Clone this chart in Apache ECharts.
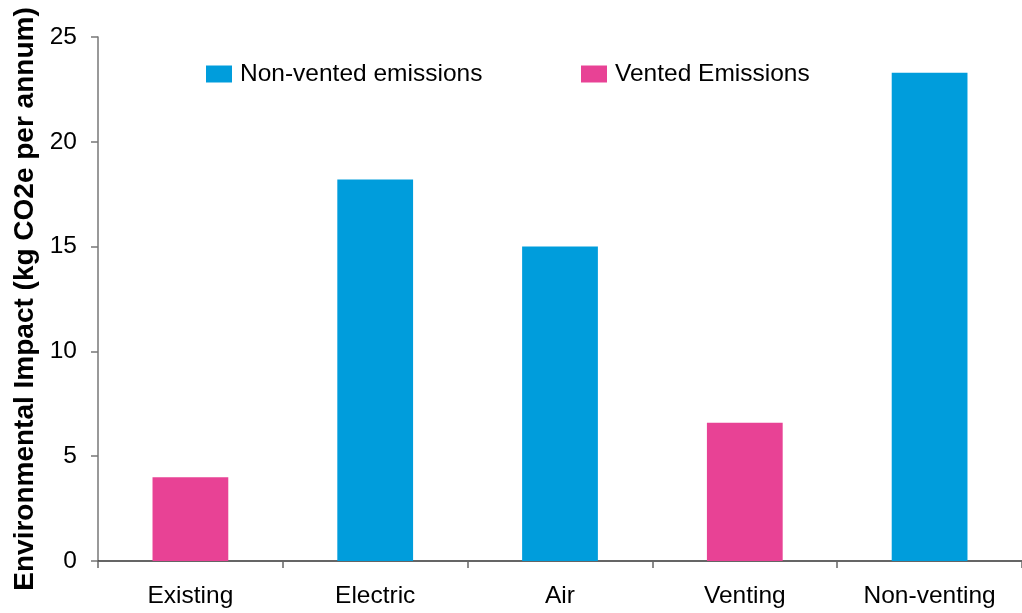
<!DOCTYPE html>
<html>
<head>
<meta charset="utf-8">
<script src="https://cdn.jsdelivr.net/npm/echarts@6/dist/echarts.min.js"></script>
<style>
  html, body { margin: 0; padding: 0; background: #ffffff; }
  #chart { width: 1022px; height: 613px; }
</style>
</head>
<body>
<div id="chart"></div>
<script>
// Annual environmental impact by option (kg CO2e per annum)
const categories = ['Existing', 'Electric', 'Air', 'Venting', 'Non-venting'];
const nonVented = ['-', 18.2, 15.0, '-', 23.3];
const vented = [4.0, '-', '-', 6.6, '-'];
const yTicks = { min: 0, max: 25, interval: 5 };

const FONT = '"Liberation Sans", Arial, Helvetica, sans-serif';
const BLUE = '#009ddc';
const PINK = '#e84295';

const chart = echarts.init(document.getElementById('chart'), null, { renderer: 'canvas' });

const legendText = { fontFamily: FONT, fontSize: 24.5, color: '#000', padding: [0, 0, 0, 3] };

chart.setOption({
  backgroundColor: '#ffffff',
  animation: false,
  grid: { left: 98, top: 37, bottom: 52, right: -6, containLabel: false },
  legend: [
    {
      data: ['Non-vented emissions'], left: 206, top: 61.5, padding: 0,
      itemWidth: 26, itemHeight: 17, itemGap: 6,
      textStyle: legendText, icon: 'rect'
    },
    {
      data: ['Vented Emissions'], left: 581, top: 61.5, padding: 0,
      itemWidth: 26, itemHeight: 17, itemGap: 6,
      textStyle: legendText, icon: 'rect'
    }
  ],
  xAxis: {
    type: 'category',
    data: categories,
    axisLine: { lineStyle: { color: '#333', width: 1.5 } },
    axisTick: { show: true, length: 7, lineStyle: { color: '#666', width: 1.5 } },
    axisLabel: { fontFamily: FONT, fontSize: 24.5, color: '#000', margin: 23 },
    splitLine: { show: false }
  },
  yAxis: {
    type: 'value',
    min: yTicks.min, max: yTicks.max, interval: yTicks.interval,
    name: 'Environmental Impact (kg CO2e per annum)',
    nameLocation: 'middle',
    nameGap: 56,
    nameTextStyle: { fontFamily: FONT, fontSize: 28, fontWeight: 'bold', color: '#000' },
    axisLine: { show: true, lineStyle: { color: '#777', width: 1.5 } },
    axisTick: { show: true, length: 7, lineStyle: { color: '#777', width: 1.5 } },
    axisLabel: { fontFamily: FONT, fontSize: 24.5, color: '#000', margin: 21 },
    splitLine: { show: false }
  },
  series: [
    {
      name: 'Non-vented emissions', type: 'bar', stack: 'total',
      data: nonVented, barWidth: '41%',
      itemStyle: { color: BLUE }
    },
    {
      name: 'Vented Emissions', type: 'bar', stack: 'total',
      data: vented, barWidth: '41%',
      itemStyle: { color: PINK }
    }
  ]
});
</script>
</body>
</html>
